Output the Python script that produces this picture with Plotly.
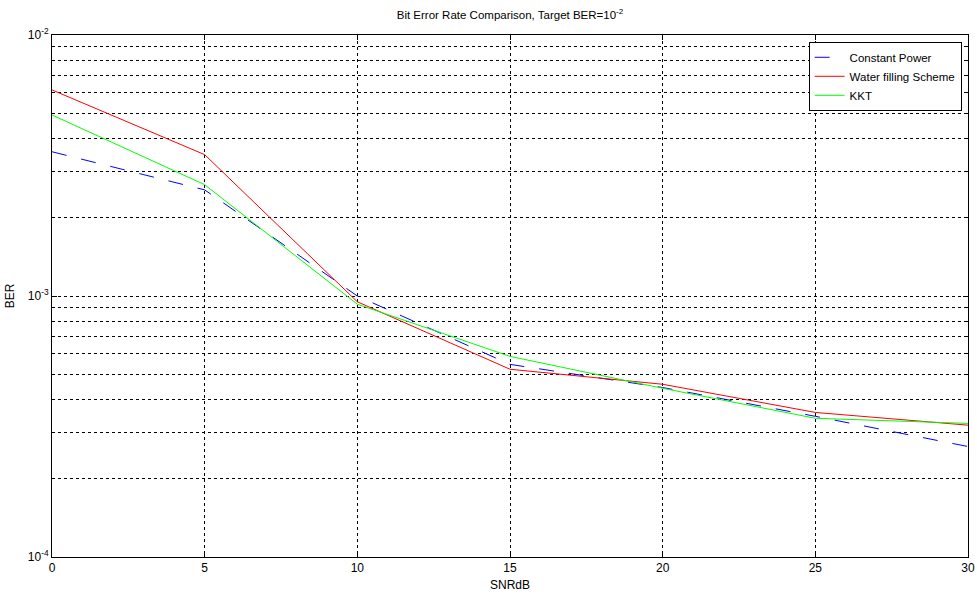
import plotly.graph_objects as go

snr_db = [0, 5, 10, 15, 20, 25, 30]
ber_constant_power = [3.57e-3, 2.55e-3, 1.0e-3, 5.47e-4, 4.46e-4, 3.46e-4, 2.65e-4]
ber_water_filling = [6.16e-3, 3.48e-3, 9.5e-4, 5.24e-4, 4.59e-4, 3.58e-4, 3.2e-4]
ber_kkt = [4.94e-3, 2.67e-3, 9.3e-4, 5.87e-4, 4.43e-4, 3.40e-4, 3.25e-4]

x_ticks = [0, 5, 10, 15, 20, 25, 30]
y_ticks = [1e-4, 1e-3, 1e-2]
y_tick_text = ["10<sup>-4</sup>", "10<sup>-3</sup>", "10<sup>-2</sup>"]

FONT = "Liberation Sans, Arial, sans-serif"

fig = go.Figure()
fig.add_trace(go.Scatter(x=snr_db, y=ber_constant_power, mode="lines", name="Constant Power",
                         line=dict(color="#0000ff", width=1, dash="longdash")))
fig.add_trace(go.Scatter(x=snr_db, y=ber_water_filling, mode="lines", name="Water filling Scheme",
                         line=dict(color="#ff0000", width=1)))
fig.add_trace(go.Scatter(x=snr_db, y=ber_kkt, mode="lines", name="KKT",
                         line=dict(color="#00ff00", width=1)))

fig.update_layout(
    width=977, height=601,
    margin=dict(l=52, r=9, t=35, b=44, autoexpand=False),
    paper_bgcolor="white", plot_bgcolor="white",
    font=dict(family=FONT, size=12, color="black"),
    title=dict(text="Bit Error Rate Comparison, Target BER=10<sup>-2</sup>",
               x=0.5, xref="paper", xanchor="center", y=0.975, yanchor="middle",
               font=dict(size=11.5)),
    showlegend=True,
    legend=dict(x=0.826, y=0.987, xanchor="left", yanchor="top",
                bordercolor="black", borderwidth=1, bgcolor="white",
                font=dict(size=11.5), tracegroupgap=0),
    xaxis=dict(range=[0, 30], tickvals=x_ticks, showgrid=True, automargin=False,
               gridcolor="black", griddash="dot", gridwidth=1,
               showline=True, linecolor="black", linewidth=1, mirror="ticks",
               ticks="inside", ticklen=5, tickcolor="black",
               zeroline=False, tickfont=dict(size=12),
               title=dict(text="SNRdB", standoff=6, font=dict(size=12))),
    yaxis=dict(type="log", range=[-4, -2], tickvals=y_ticks, ticktext=y_tick_text,
               showgrid=True, gridcolor="black", griddash="dot", gridwidth=1,
               automargin=False,
               showline=True, linecolor="black", linewidth=1, mirror="ticks",
               ticks="inside", ticklen=5, tickcolor="black", tickfont=dict(size=12),
               minor=dict(dtick="D1", showgrid=True, gridcolor="black", griddash="dot",
                          gridwidth=1, ticks="inside", ticklen=3, tickcolor="black"),
               zeroline=False,
               title=dict(text="BER", standoff=10, font=dict(size=12))),
)

fig.write_html("out.html", config={"displayModeBar": False},
               post_script="document.body.style.margin='0';")
